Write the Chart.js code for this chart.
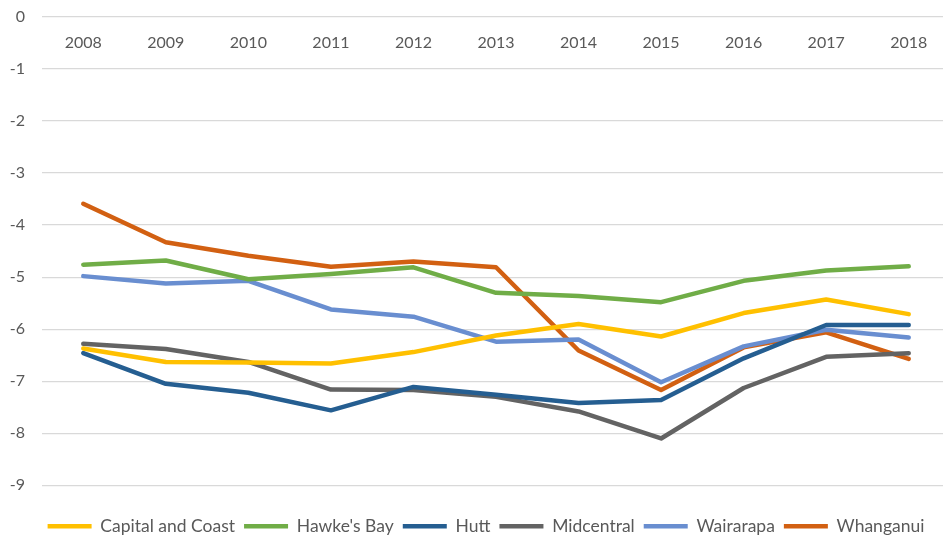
<!DOCTYPE html>
<html>
<head>
<meta charset="utf-8">
<script src="https://cdn.jsdelivr.net/npm/chart.js@4.4.1/dist/chart.umd.min.js"></script>
<style>
  html, body { margin: 0; padding: 0; background: #fff; overflow: hidden; }
  #wrap { width: 972px; height: 539px; position: relative; }
</style>
</head>
<body>
<div id="wrap"><canvas id="chart"></canvas></div>
<script>
const years = ["2008", "2009", "2010", "2011", "2012", "2013", "2014", "2015", "2016", "2017", "2018"];

const capitalCoast = [-6.37, -6.63, -6.64, -6.66, -6.44, -6.12, -5.90, -6.14, -5.69, -5.43, -5.71];
const hawkesBay = [-4.76, -4.68, -5.04, -4.94, -4.81, -5.30, -5.36, -5.48, -5.07, -4.87, -4.79];
const hutt = [-6.46, -7.05, -7.22, -7.56, -7.11, -7.26, -7.42, -7.36, -6.56, -5.92, -5.92];
const midcentral = [-6.28, -6.38, -6.63, -7.16, -7.17, -7.30, -7.58, -8.10, -7.13, -6.53, -6.46];
const wairarapa = [-4.98, -5.12, -5.07, -5.62, -5.76, -6.24, -6.20, -7.02, -6.33, -6.01, -6.16];
const whanganui = [-3.59, -4.33, -4.59, -4.80, -4.70, -4.81, -6.41, -7.17, -6.35, -6.06, -6.57];

const series = [
  { label: "Capital and Coast", data: capitalCoast, color: "#FFC000" },
  { label: "Hawke's Bay", data: hawkesBay, color: "#70AD47" },
  { label: "Hutt", data: hutt, color: "#255E91" },
  { label: "Midcentral", data: midcentral, color: "#636363" },
  { label: "Wairarapa", data: wairarapa, color: "#698ED0" },
  { label: "Whanganui", data: whanganui, color: "#D26012" },
];

Chart.defaults.font.family = "Lato, 'Open Sans', sans-serif";
Chart.defaults.font.size = 16;
Chart.defaults.color = "#595959";

new Chart(document.getElementById("chart"), {
  type: "line",
  data: {
    labels: years,
    datasets: series.map((s) => ({
      label: s.label,
      data: s.data,
      borderColor: s.color,
      backgroundColor: s.color,
      borderWidth: 4.5,
      borderCapStyle: "round",
      borderJoinStyle: "round",
      pointRadius: 0,
      pointHoverRadius: 0,
      tension: 0,
      fill: false,
    })),
  },
  options: {
    responsive: true,
    maintainAspectRatio: false,
    animation: false,
    layout: { padding: { top: 17, right: 0, left: 0, bottom: -6 } },
    plugins: {
      tooltip: { enabled: false },
      legend: {
        position: "bottom",
        title: { display: true, text: "", font: { size: 1 }, padding: { top: 22, bottom: 0 } },
        labels: {
          usePointStyle: true,
          pointStyle: "line",
          pointStyleWidth: 44,
          padding: 9,
          font: { size: 17.5 },
          color: "#595959",
        },
      },
    },
    scales: {
      x: {
        position: { y: 0 },
        offset: true,
        grid: { display: false },
        border: { display: false },
        ticks: { padding: 8, color: "#595959" },
      },
      y: {
        min: -9,
        max: 0,
        ticks: { stepSize: 1, padding: 17, color: "#595959" },
        grid: { color: "#D9D9D9", lineWidth: 1.3, drawTicks: false },
        border: { display: false },
        afterFit: (scale) => {
          scale.width = 42;
          scale.paddingTop = 0;
          scale.paddingBottom = 0;
        },
      },
      yRight: {
        position: "right",
        min: -9,
        max: 0,
        ticks: { display: false },
        grid: { display: false, drawTicks: false },
        border: { display: false },
        afterFit: (scale) => { scale.width = 22; },
      },
    },
  },
});
</script>
</body>
</html>
